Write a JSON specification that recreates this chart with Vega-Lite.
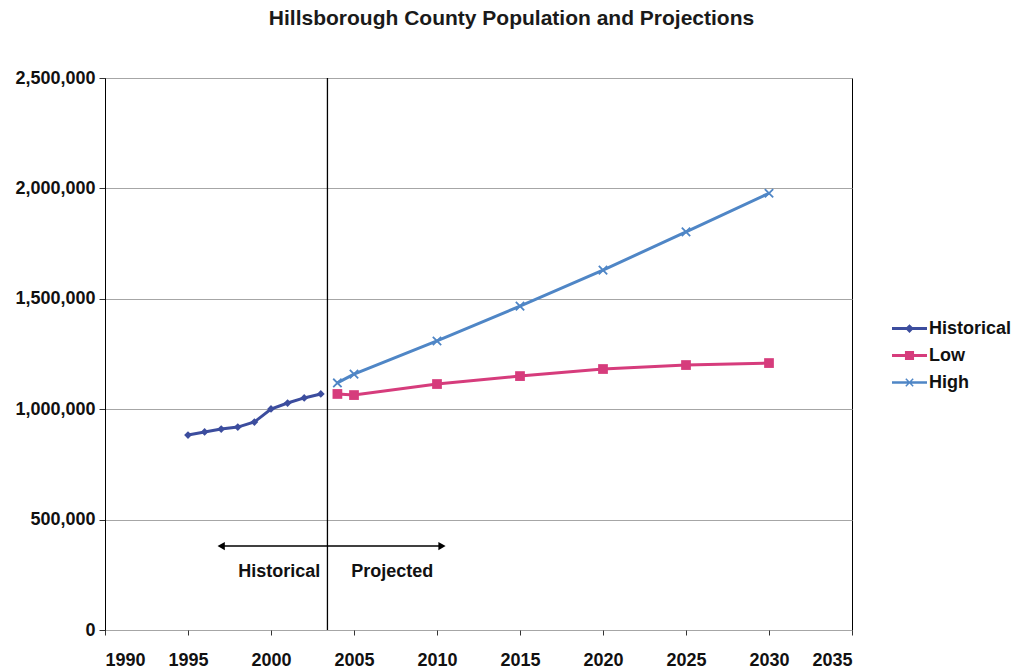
{
  "$schema": "https://vega.github.io/schema/vega-lite/v6.json",
  "width": 747,
  "height": 552,
  "autosize": {"type": "none"},
  "padding": {"left": 105, "top": 78, "right": 162, "bottom": 40},
  "background": "white",
  "title": {"text": "Hillsborough County Population and Projections", "fontSize": 21, "font": "Liberation Sans", "fontWeight": "bold", "color": "#1a1a1a", "anchor": "middle", "dx": 33, "offset": 40},
  "config": {
    "view": {"stroke": "black", "strokeWidth": 1},
    "axis": {"labelFont": "Liberation Sans", "labelFontWeight": "bold", "labelFontSize": 18, "labelColor": "#111", "tickColor": "#333", "domainColor": "black"},
    "legend": {"labelFont": "Liberation Sans", "labelFontWeight": "bold", "labelFontSize": 18, "labelColor": "#111"}
  },
  "datasets": {
    "pop": [
      {"year": 1995, "population": 883000, "series": "Historical"},
      {"year": 1996, "population": 897000, "series": "Historical"},
      {"year": 1997, "population": 910000, "series": "Historical"},
      {"year": 1998, "population": 919000, "series": "Historical"},
      {"year": 1999, "population": 942000, "series": "Historical"},
      {"year": 2000, "population": 1001000, "series": "Historical"},
      {"year": 2001, "population": 1028000, "series": "Historical"},
      {"year": 2002, "population": 1051000, "series": "Historical"},
      {"year": 2003, "population": 1069000, "series": "Historical"},
      {"year": 2004, "population": 1069000, "series": "Low"},
      {"year": 2005, "population": 1064000, "series": "Low"},
      {"year": 2010, "population": 1114000, "series": "Low"},
      {"year": 2015, "population": 1150000, "series": "Low"},
      {"year": 2020, "population": 1182000, "series": "Low"},
      {"year": 2025, "population": 1200000, "series": "Low"},
      {"year": 2030, "population": 1209000, "series": "Low"},
      {"year": 2004, "population": 1119000, "series": "High"},
      {"year": 2005, "population": 1159000, "series": "High"},
      {"year": 2010, "population": 1309000, "series": "High"},
      {"year": 2015, "population": 1467000, "series": "High"},
      {"year": 2020, "population": 1630000, "series": "High"},
      {"year": 2025, "population": 1803000, "series": "High"},
      {"year": 2030, "population": 1978000, "series": "High"}
    ],
    "divider": [{"year": 2003.4, "population": 0, "top": 2500000}],
    "arrow": [
      {"year": 1997, "population": 380000, "end": "left"},
      {"year": 2010.3, "population": 380000, "end": "right"}
    ],
    "labels": [
      {"year": 2000.5, "population": 263000, "label": "Historical"},
      {"year": 2007.3, "population": 263000, "label": "Projected"}
    ]
  },
  "encoding": {
    "x": {"field": "year", "type": "quantitative", "title": null,
          "scale": {"domain": [1990, 2035], "nice": false, "zero": false},
          "axis": {"values": [1990, 1995, 2000, 2005, 2010, 2015, 2020, 2025, 2030, 2035], "format": "d", "grid": false, "domain": false, "tickSize": 5, "labelPadding": 16}},
    "y": {"field": "population", "type": "quantitative", "title": null,
          "scale": {"domain": [0, 2500000], "nice": false},
          "axis": {"values": [0, 500000, 1000000, 1500000, 2000000, 2500000], "format": ",.0f", "grid": true, "gridColor": "#a6a6a6", "gridWidth": 1, "tickSize": 6, "labelPadding": 4, "domainColor": "black"}}
  },
  "layer": [
    {
      "data": {"name": "pop"},
      "mark": {"type": "line", "strokeWidth": 3},
      "encoding": {
        "color": {"field": "series", "type": "nominal", "legend": null,
                  "scale": {"range": ["#4f86c6", "#3c4d9e", "#d63c7c"]}}
      }
    },
    {
      "data": {"name": "pop"},
      "transform": [{"filter": {"field": "series", "equal": "Historical"}}],
      "mark": {"type": "point", "shape": "diamond", "filled": true, "size": 60, "color": "#3c4d9e", "opacity": 1}
    },
    {
      "data": {"name": "pop"},
      "transform": [{"filter": {"field": "series", "equal": "Low"}}],
      "mark": {"type": "point", "shape": "square", "filled": true, "size": 95, "color": "#d63c7c", "opacity": 1}
    },
    {
      "data": {"name": "pop"},
      "transform": [{"filter": {"field": "series", "equal": "High"}}],
      "mark": {"type": "point", "shape": "M-1,-1L1,1M-1,1L1,-1", "filled": false, "size": 70, "strokeWidth": 1.8, "color": "#4f86c6", "opacity": 1}
    },
    {
      "data": {"name": "divider"},
      "mark": {"type": "rule", "color": "black", "strokeWidth": 1.3},
      "encoding": {
        "y2": {"field": "top"}
      }
    },
    {
      "data": {"name": "arrow"},
      "mark": {"type": "line", "color": "black", "strokeWidth": 1.5},
      "encoding": {}
    },
    {
      "data": {"name": "arrow"},
      "transform": [{"filter": {"field": "end", "equal": "left"}}],
      "mark": {"type": "point", "shape": "triangle-left", "filled": true, "size": 70, "color": "black", "opacity": 1}
    },
    {
      "data": {"name": "arrow"},
      "transform": [{"filter": {"field": "end", "equal": "right"}}],
      "mark": {"type": "point", "shape": "triangle-right", "filled": true, "size": 70, "color": "black", "opacity": 1}
    },
    {
      "data": {"name": "labels"},
      "mark": {"type": "text", "font": "Liberation Sans", "fontSize": 18, "fontWeight": "bold", "color": "#111", "align": "center", "baseline": "middle"},
      "encoding": {
        "text": {"field": "label"}
      }
    },
    {
      "data": {"name": "pop"},
      "transform": [{"filter": {"field": "year", "lt": 0}}],
      "mark": {"type": "point", "filled": true},
      "encoding": {
        "fill": {"field": "series", "type": "nominal", "title": null,
                 "scale": {"domain": ["Historical", "Low", "High"], "range": ["#3c4d9e", "#d63c7c", "#4f86c6"]},
                 "legend": {"orient": "none", "legendX": 787, "legendY": 233, "symbolSize": 1225, "symbolStrokeWidth": 0, "symbolOpacity": 1, "rowPadding": -7, "labelOffset": 2, "title": null}},
        "shape": {"field": "series", "type": "nominal", "title": null,
                  "scale": {"domain": ["Historical", "Low", "High"], "range": [
                    "M-1,-0.08H1V0.08H-1Z M0,-0.25L0.25,0L0,0.25L-0.25,0Z",
                    "M-1,-0.08H1V0.08H-1Z M-0.26,-0.26H0.26V0.26H-0.26Z",
                    "M-1,-0.07H1V0.07H-1Z M-0.24,-0.18L-0.18,-0.24L0.24,0.18L0.18,0.24Z M-0.24,0.18L0.18,-0.24L0.24,-0.18L-0.18,0.24Z"]},
                  "legend": {"orient": "none", "legendX": 787, "legendY": 233, "symbolSize": 1225, "symbolStrokeWidth": 0, "symbolOpacity": 1, "rowPadding": -7, "labelOffset": 2, "title": null}}
      }
    }
  ]
}
